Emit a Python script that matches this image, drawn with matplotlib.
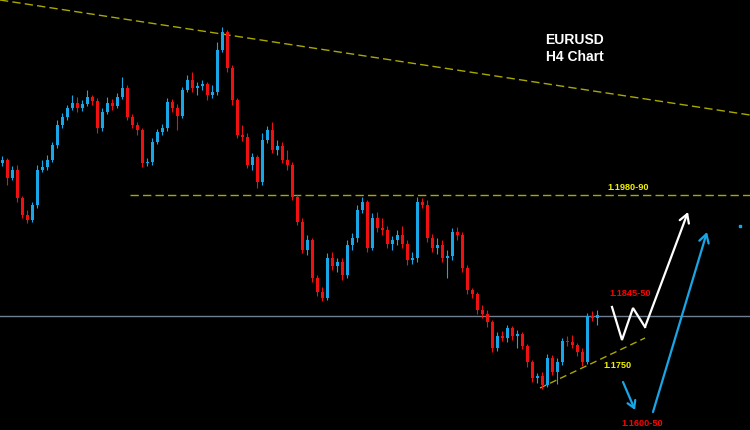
"""EURUSD H4 candlestick chart with analyst annotations."""

import matplotlib
matplotlib.use("Agg")
import matplotlib.pyplot as plt
import numpy as np

# OHLC of the H4 candles (price); open of each bar is the previous close
first_open = 1.2017
closes = [
    1.2020, 1.2002, 1.2010, 1.1982, 1.1965, 1.1960, 1.1975, 1.2010, 1.2013, 1.2020,
    1.2035, 1.2055, 1.2063, 1.2072, 1.2077, 1.2072, 1.2076, 1.2083, 1.2079, 1.2052,
    1.2068, 1.2077, 1.2074, 1.2083, 1.2092, 1.2063, 1.2055, 1.2050, 1.2017, 1.2018,
    1.2038, 1.2048, 1.2052, 1.2078, 1.2072, 1.2064, 1.2090, 1.2100, 1.2092, 1.2094,
    1.2096, 1.2085, 1.2088, 1.2130, 1.2148, 1.2112, 1.2080, 1.2045, 1.2043, 1.2015,
    1.2023, 1.1998, 1.2040, 1.2050, 1.2030, 1.2034, 1.2020, 1.2015, 1.1983, 1.1958,
    1.1930, 1.1940, 1.1902, 1.1888, 1.1882, 1.1922, 1.1914, 1.1918, 1.1905, 1.1935,
    1.1942, 1.1970, 1.1978, 1.1932, 1.1962, 1.1952, 1.1950, 1.1936, 1.1940, 1.1945,
    1.1936, 1.1920, 1.1922, 1.1978, 1.1975, 1.1942, 1.1932, 1.1935, 1.1922, 1.1924,
    1.1948, 1.1945, 1.1912, 1.1890, 1.1886, 1.1870, 1.1866, 1.1858, 1.1832, 1.1844,
    1.1842, 1.1852, 1.1844, 1.1846, 1.1834, 1.1818, 1.1802, 1.1804, 1.1795, 1.1822,
    1.1808, 1.1818, 1.1839, 1.1838, 1.1835, 1.1828, 1.1818, 1.1864, 1.1862, 1.1865,
]
highs = [
    1.2024, 1.2022, 1.2014, 1.2015, 1.1984, 1.1970, 1.1978, 1.2015, 1.2020, 1.2025,
    1.2038, 1.2060, 1.2067, 1.2075, 1.2085, 1.2083, 1.2080, 1.2090, 1.2085, 1.2082,
    1.2072, 1.2083, 1.2081, 1.2087, 1.2103, 1.2095, 1.2066, 1.2058, 1.2052, 1.2022,
    1.2042, 1.2051, 1.2056, 1.2082, 1.2081, 1.2076, 1.2093, 1.2105, 1.2108, 1.2098,
    1.2100, 1.2098, 1.2095, 1.2138, 1.2153, 1.2150, 1.2115, 1.2082, 1.2055, 1.2047,
    1.2027, 1.2025, 1.2047, 1.2054, 1.2058, 1.2040, 1.2038, 1.2030, 1.2018, 1.1985,
    1.1962, 1.1945, 1.1942, 1.1905, 1.1893, 1.1927, 1.1928, 1.1922, 1.1922, 1.1940,
    1.1947, 1.1975, 1.1983, 1.1980, 1.1967, 1.1968, 1.1962, 1.1954, 1.1944, 1.1950,
    1.1954, 1.1940, 1.1928, 1.1983, 1.1982, 1.1980, 1.1946, 1.1942, 1.1940, 1.1930,
    1.1952, 1.1953, 1.1948, 1.1915, 1.1892, 1.1888, 1.1875, 1.1870, 1.1860, 1.1848,
    1.1849, 1.1855, 1.1854, 1.1850, 1.1848, 1.1836, 1.1820, 1.1807, 1.1808, 1.1826,
    1.1825, 1.1822, 1.1842, 1.1844, 1.1845, 1.1837, 1.1832, 1.1867, 1.1869, 1.1870,
]
lows = [
    1.2014, 1.1995, 1.2000, 1.1978, 1.1962, 1.1957, 1.1958, 1.1972, 1.2008, 1.2010,
    1.2018, 1.2032, 1.2052, 1.2060, 1.2070, 1.2068, 1.2069, 1.2074, 1.2075, 1.2047,
    1.2049, 1.2066, 1.2070, 1.2072, 1.2081, 1.2060, 1.2052, 1.2045, 1.2013, 1.2014,
    1.2015, 1.2036, 1.2045, 1.2049, 1.2068, 1.2050, 1.2062, 1.2088, 1.2088, 1.2085,
    1.2090, 1.2080, 1.2082, 1.2085, 1.2128, 1.2108, 1.2075, 1.2042, 1.2039, 1.2012,
    1.2010, 1.1992, 1.1995, 1.2037, 1.2027, 1.2025, 1.2017, 1.2010, 1.1980, 1.1955,
    1.1927, 1.1925, 1.1898, 1.1884, 1.1879, 1.1880, 1.1910, 1.1908, 1.1900, 1.1902,
    1.1930, 1.1938, 1.1967, 1.1928, 1.1930, 1.1948, 1.1945, 1.1932, 1.1930, 1.1935,
    1.1932, 1.1915, 1.1916, 1.1918, 1.1972, 1.1938, 1.1928, 1.1926, 1.1918, 1.1902,
    1.1920, 1.1940, 1.1908, 1.1886, 1.1882, 1.1866, 1.1862, 1.1853, 1.1828, 1.1829,
    1.1839, 1.1838, 1.1840, 1.1832, 1.1831, 1.1813, 1.1798, 1.1797, 1.1791, 1.1793,
    1.1805, 1.1796, 1.1815, 1.1834, 1.1832, 1.1824, 1.1814, 1.1816, 1.1859, 1.1855,
]

# key levels and labels
resistance = 1.1985
last_price = 1.1864
level_labels = ["1.1980-90", "1.1845-50", "1.1750", "1.1600-50"]

BULL = "#19a6e6"
BEAR = "#f01010"
YELLOW = "#a9a800"


def main() -> None:
    opens = [first_open] + closes[:-1]
    o = np.array(opens)
    c = np.array(closes)
    h = np.array(highs)
    lo = np.array(lows)
    x = np.arange(len(c))
    colors = np.where(c >= o, BULL, BEAR)

    fig = plt.figure(figsize=(7.5, 4.3), dpi=100, facecolor="black")
    ax = fig.add_axes([0, 0, 1, 1])
    ax.set_facecolor("black")
    ax.set_xlim(-0.4, 149.6)
    ax.set_ylim(1.1750, 1.2180)
    ax.axis("off")

    # candles
    ax.vlines(x, lo, h, colors=colors, linewidth=0.8, zorder=3)
    body_bottom = np.minimum(o, c)
    body_height = np.maximum(np.abs(c - o), 0.00012)
    ax.bar(x, body_height, bottom=body_bottom, width=0.6, color=colors,
           linewidth=0, zorder=4)

    # descending trendline and levels
    ax.plot([-0.4, 149.6], [1.2180, 1.2065], color=YELLOW, lw=1.0,
            ls=(0, (6, 3)), zorder=2)
    ax.plot([25.6, 149.6], [resistance, resistance], color=YELLOW, lw=1.0,
            ls=(0, (6, 3)), zorder=2)
    ax.axhline(last_price, color="#6f7f8f", lw=1.0, zorder=1)
    ax.plot([107.6, 128.6], [1.1792, 1.1842], color=YELLOW, lw=1.0,
            ls=(0, (5, 3)), zorder=2)

    # projected path (white zigzag)
    zx = [122.0, 124.0, 126.2, 128.6]
    zy = [1.1873, 1.1840, 1.1872, 1.1853]
    ax.plot(zx, zy, color="white", lw=1.6, zorder=5, solid_joinstyle="miter")
    ax.annotate("", xy=(137.2, 1.1968), xytext=(128.6, 1.1853),
                arrowprops=dict(arrowstyle="->,head_length=0.6,head_width=0.35",
                                color="white", lw=1.6, shrinkA=0, shrinkB=0),
                zorder=5)

    # alternative path (blue arrows)
    ax.annotate("", xy=(126.6, 1.1770), xytext=(124.2, 1.1798),
                arrowprops=dict(arrowstyle="->,head_length=0.5,head_width=0.3",
                                color=BULL, lw=1.6, shrinkA=0, shrinkB=0),
                zorder=5)
    ax.annotate("", xy=(141.0, 1.1948), xytext=(130.2, 1.1768),
                arrowprops=dict(arrowstyle="->,head_length=0.6,head_width=0.35",
                                color=BULL, lw=1.6, shrinkA=0, shrinkB=0),
                zorder=5)
    ax.plot([147.6], [1.1954], marker="s", ms=1.6, color=BULL, zorder=5)

    # level labels
    font = dict(family=["Liberation Sans", "DejaVu Sans"], fontweight="bold",
                fontsize=6.6, ha="center", va="center", zorder=6)
    ax.text(125.2, 1.1992, level_labels[0], color="#f2f200", **font)
    ax.text(125.6, 1.1887, level_labels[1], color="#ff0000", **font)
    ax.text(123.0, 1.1814, level_labels[2], color="#f2f200", **font)
    ax.text(128.0, 1.1757, level_labels[3], color="#ff0000", **font)

    # title
    title = dict(family=["Liberation Sans", "DejaVu Sans"], fontweight="bold",
                 fontsize=10, color="white", ha="center", va="center")
    ax.text(114.6, 1.2140, "EURUSD", **title)
    ax.text(114.6, 1.2123, "H4 Chart", **title)

    fig.savefig("out.png", dpi=100, facecolor="black")
    plt.close(fig)


if __name__ == "__main__":
    main()
